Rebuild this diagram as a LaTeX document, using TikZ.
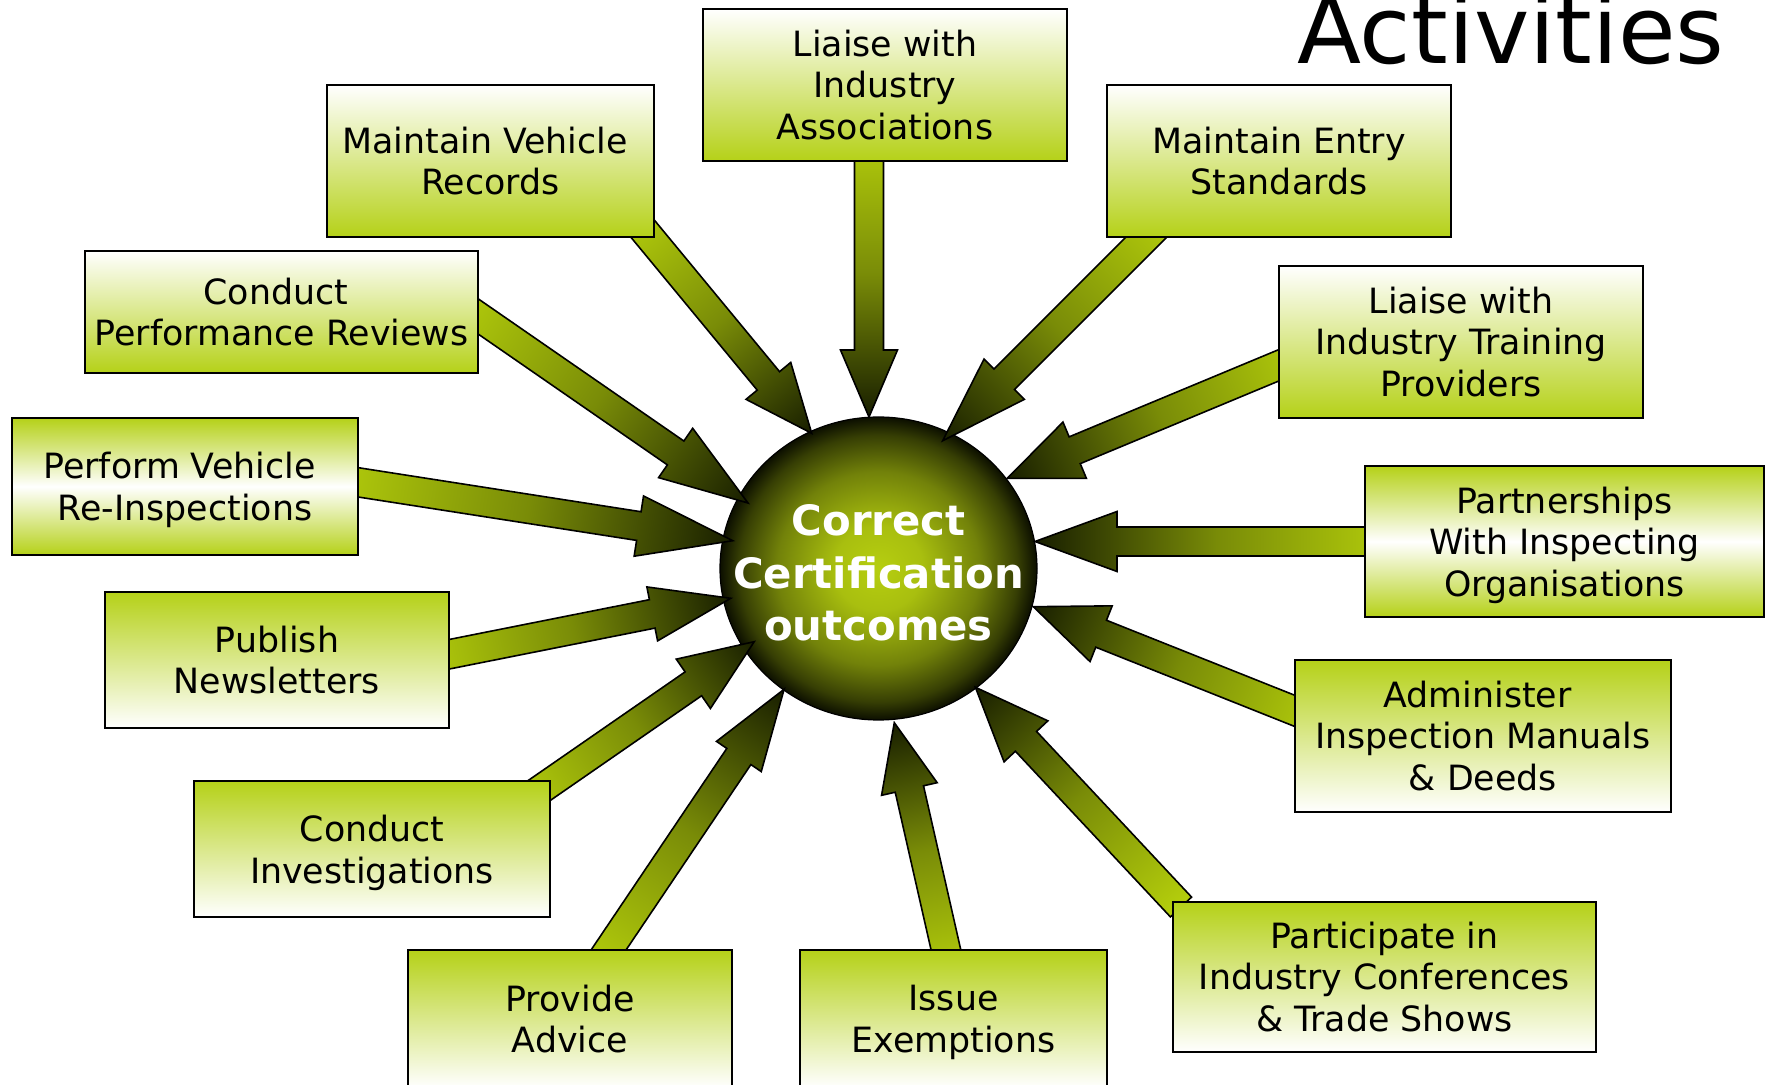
\documentclass[tikz,border=0pt]{standalone}
\usepackage{fontspec}
\setmainfont{DejaVu Sans}
\usetikzlibrary{calc,shapes.geometric}
\definecolor{lime}{RGB}{181,207,12}
\definecolor{limebox}{RGB}{181,209,24}
\definecolor{darkolive}{RGB}{24,30,0}
\definecolor{ballin}{RGB}{182,206,16}
\definecolor{ballout}{RGB}{12,15,0}
\pgfdeclareradialshading{greenball}{\pgfpoint{0bp}{0bp}}{%
  color(0bp)=(ballin); color(7bp)=(ballin!92!ballout); color(16bp)=(ballin!60!ballout);
  color(22bp)=(ballin!25!ballout); color(25bp)=(ballout); color(50bp)=(ballout)}
\newcommand\boxfont{\fontsize{17.4}{20.85}\selectfont}
\newcommand\ballfont{\fontsize{20.9}{26.2}\selectfont\bfseries}
\newcommand\tsp{\kern0.32em}
\newcommand\nodp[1]{\raisebox{0pt}[\height][0pt]{#1}}
\tikzset{
  box/.style={draw=black, line width=1pt, inner sep=0pt, outer sep=0pt, align=center, font=\boxfont},
  boxtop/.style={box, top color=white, bottom color=limebox},
  boxmid/.style={box, top color=limebox, bottom color=limebox, middle color=white},
  boxbot/.style={box, top color=limebox, bottom color=white},
  blockarrow/.style={draw=black, line width=0.8pt, left color=lime, right color=darkolive,
    middle color=lime!62!darkolive},
}
% name, style, cx, cy, w, h, text
\newcommand\boxnode[7]{%
  \node[#2, minimum width=#5*0.5pt, minimum height=#6*0.5pt] (#1) at (#3,#4) {#7};}
% tail, tip, head length, head width, hidden extension (all px)
\newcommand\blockarrow[5]{%
  \path let \p1=(#1), \p2=(#2) in \pgfextra{%
    \pgfmathsetmacro\baang{atan2(\y2-\y1,\x2-\x1)}%
    \pgfmathsetmacro\balen{veclen(\x2-\x1,\y2-\y1)}%
    \xdef\baang{\baang}\xdef\balen{\balen}};
  \pgfmathsetmacro\bax{-\balen-#5*0.5}%
  \pgfmathsetmacro\bah{-#3*0.5}%
  \pgfmathsetmacro\baw{#4*0.25}%
  \begin{scope}[transform canvas={shift={(#2)},rotate=\baang}]
    \shade[blockarrow] (\bax pt,-7.25pt) -- (\bah pt,-7.25pt) -- (\bah pt,-\baw pt)
      -- (0pt,0pt) -- (\bah pt,\baw pt) -- (\bah pt,7.25pt) -- (\bax pt,7.25pt) -- cycle;
  \end{scope}}
\begin{document}
\begin{tikzpicture}[x=0.5pt,y=-0.5pt]
\path[use as bounding box] (0,0) rectangle (1769,1085);
\clip (0,0) rectangle (1769,1085);
\fill[white] (0,0) rectangle (1769,1085);

% title
\node[anchor=base west, inner sep=0pt, font=\fontsize{46.8}{50}\selectfont] (title) at (1297,63.6) {Activities};

% centre
\node[ellipse, draw=black, line width=0.6pt, minimum width=158.5pt, minimum height=151.5pt,
      inner sep=0pt, shading=greenball] (c) at (878.5,568.5) {};
\node[text=white, font=\ballfont, align=center, inner sep=0pt] (ctext) at (878.5,573) {Correct\\Certification\\outcomes};

% arrow ends
\coordinate (s1) at (869,161);     \coordinate (t1) at (869,417);
\coordinate (s2) at (649.5,237);   \coordinate (t2) at (811.7,433.3);
\coordinate (s3) at (1146.4,237);  \coordinate (t3) at (942.7,440.7);
\coordinate (s4) at (478,316.3);   \coordinate (t4) at (748,503);
\coordinate (s5) at (1279,365.2);  \coordinate (t5) at (1007.3,478.3);
\coordinate (s6) at (358,482.3);   \coordinate (t6) at (732.7,540.7);
\coordinate (s7) at (1365,541.5);  \coordinate (t7) at (1035,541.5);
\coordinate (s8) at (449,654.3);   \coordinate (t8) at (730.7,598.3);
\coordinate (s9) at (1295,711);    \coordinate (t9) at (1033.3,606.7);
\coordinate (s10) at (549.9,783.1);\coordinate (t10) at (754.2,641.7);
\coordinate (s11) at (609,949.3);  \coordinate (t11) at (784.1,689.3);
\coordinate (s12) at (945.8,949.3);\coordinate (t12) at (894.3,722.7);
\coordinate (s13) at (1181,907);   \coordinate (t13) at (975.4,687.3);

\blockarrow{s1}{t1}{67}{57}{30}
\blockarrow{s2}{t2}{68}{58}{35}
\blockarrow{s3}{t3}{87}{57}{35}
\blockarrow{s4}{t4}{88}{60}{35}
\blockarrow{s5}{t5}{73}{61}{35}
\blockarrow{s6}{t6}{95}{61}{35}
\blockarrow{s7}{t7}{82}{60}{35}
\blockarrow{s8}{t8}{80}{55}{35}
\blockarrow{s9}{t9}{73}{60}{35}
\blockarrow{s10}{t10}{74}{60}{40}
\blockarrow{s11}{t11}{81}{54}{30}
\blockarrow{s12}{t12}{68}{57}{30}
\blockarrow{s13}{t13}{74}{60}{0}

% boxes
\boxnode{b1}{boxtop}{885}{85}{364}{152}{Liaise with\\Industry\\Associations}
\boxnode{b2}{boxtop}{490.5}{161}{327}{152}{Maintain Vehicle\tsp\\Records}
\boxnode{b3}{boxtop}{1279}{161}{344}{152}{Maintain Entry\\Standards}
\boxnode{b4}{boxtop}{281.5}{312}{393}{122}{Conduct\tsp\\Performance Reviews}
\boxnode{b5}{boxtop}{1461}{342}{364}{152}{Liaise with\\Industry Training\\Providers}
\boxnode{b6}{boxmid}{185}{486.5}{346}{137}{Perform Vehicle\tsp\\\nodp{Re-Inspections}}
\boxnode{b7}{boxmid}{1564.5}{541.5}{399}{151}{Partnerships\\With Inspecting\\\nodp{Organisations}}
\boxnode{b8}{boxbot}{277}{660}{344}{136}{Publish\\Newsletters}
\boxnode{b9}{boxbot}{1483}{736}{376}{152}{Administer\tsp\\Inspection Manuals\\\& Deeds}
\boxnode{b10}{boxbot}{372}{849}{356}{136}{Conduct\\\nodp{Investigations}}
\boxnode{b11}{boxbot}{570}{1019}{324}{138}{Provide\\Advice}
\boxnode{b12}{boxbot}{953.5}{1019}{307}{138}{Issue\\\nodp{Exemptions}}
\boxnode{b13}{boxbot}{1384.5}{977}{423}{150}{Participate in\\Industry Conferences\\\& Trade Shows}
\end{tikzpicture}
\end{document}
